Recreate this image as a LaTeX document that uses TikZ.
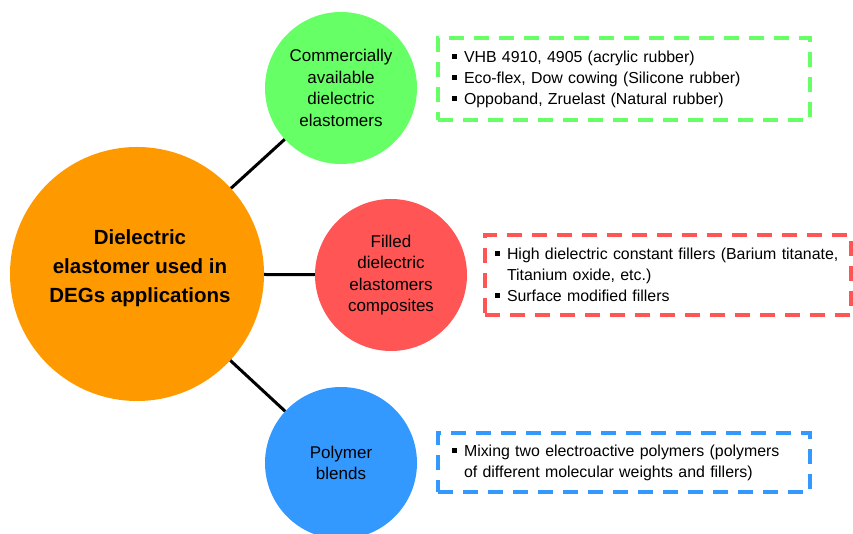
\documentclass[tikz,border=0pt]{standalone}
\usepackage{fontspec}
\setmainfont{Liberation Sans}
\usepackage{tikz}
\usetikzlibrary{positioning}
\definecolor{cagreen}{RGB}{102,255,102}
\definecolor{deorange}{RGB}{255,153,0}
\definecolor{fcred}{RGB}{255,85,85}
\definecolor{pbblue}{RGB}{51,153,255}
\newcommand{\sqbul}{\makebox[12pt][l]{\rule[0.2em]{0.32em}{0.32em}}}
\newcommand{\sqindent}{\hspace*{12pt}}
\tikzset{
  bubble/.style={circle, inner sep=0pt, minimum size=152pt, align=center,
    font=\fontsize{17}{21.5}\selectfont},
  dashbox/.style={rectangle, line width=3.8pt, dash pattern=on 15pt off 10pt,
    align=left, inner xsep=14pt, inner ysep=0pt, font=\fontsize{15.9}{21}\selectfont},
  link/.style={line width=3pt, black}
}

\begin{document}
\begin{tikzpicture}[x=1pt,y=1pt]
\useasboundingbox (0,0) rectangle (853,534);
\clip (0,0) rectangle (853,534);
\node[circle, fill=deorange, minimum size=254pt, inner sep=0pt] (DE) at (137,260) {};
\node[align=center, font=\fontsize{20.5}{29}\selectfont\bfseries] (DEtext) at (140,266)
  {Dielectric\\ elastomer used in\\ DEGs applications};
\node[bubble, fill=cagreen] (CA) at (341,446) {Commercially\\ available\\ dielectric\\ elastomers};
\node[bubble, fill=fcred] (FC) at (391,259) {Filled\\ dielectric\\ elastomers\\ composites};
\node[bubble, fill=pbblue] (PB) at (341,71) {Polymer\\ blends};
\draw[link] (DE) -- (CA);
\draw[link] (DE) -- (FC);
\draw[link] (DE) -- (PB);
\node[dashbox, draw=cagreen, text width=344pt, minimum height=82pt] (CAbox) at (624,455)
  {\sqbul VHB 4910, 4905 (acrylic rubber)\\
   \sqbul Eco-flex, Dow cowing (Silicone rubber)\\
   \sqbul Oppoband, Zruelast (Natural rubber)};
\node[dashbox, draw=fcred, text width=346pt, inner xsep=10pt, minimum height=80pt] (FCbox) at (668,259)
  {\mbox{\sqbul High dielectric constant fillers (Barium titanate,}\\
   \sqindent Titanium oxide, etc.)\\
   \sqbul Surface modified fillers};
\node[dashbox, draw=pbblue, text width=344pt, minimum height=59pt] (PBbox) at (624,71.5)
  {\sqbul Mixing two electroactive polymers (polymers\\
   \sqindent of different molecular weights and fillers)};
\end{tikzpicture}
\end{document}
